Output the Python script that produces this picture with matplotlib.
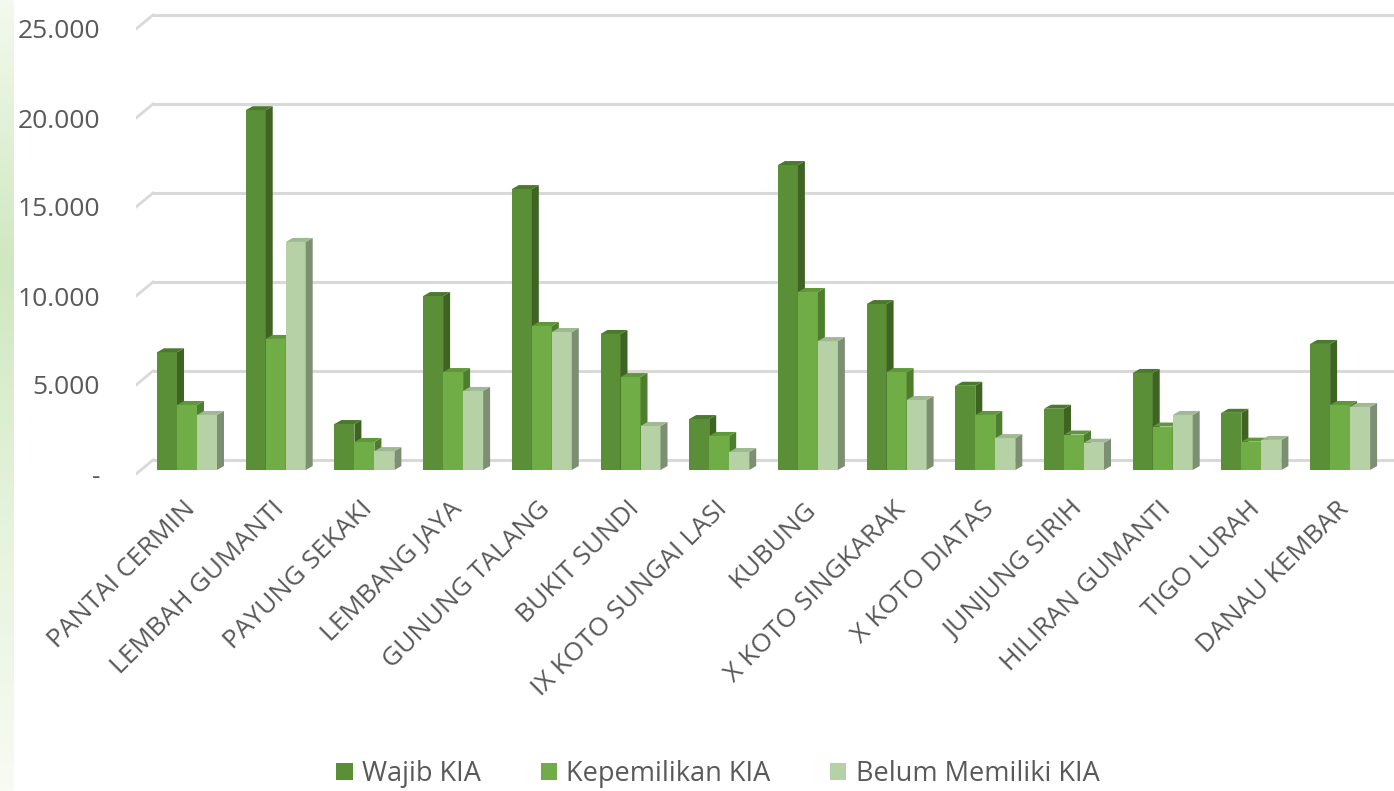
import matplotlib

matplotlib.use("Agg")
import matplotlib.pyplot as plt
import numpy as np
from matplotlib.patches import Polygon, Patch

plt.rcParams["font.family"] = ["Open Sans", "DejaVu Sans"]

# data
kecamatan = [
    "PANTAI CERMIN", "LEMBAH GUMANTI", "PAYUNG SEKAKI", "LEMBANG JAYA",
    "GUNUNG TALANG", "BUKIT SUNDI", "IX KOTO SUNGAI LASI", "KUBUNG",
    "X KOTO SINGKARAK", "X KOTO DIATAS", "JUNJUNG SIRIH", "HILIRAN GUMANTI",
    "TIGO LURAH", "DANAU KEMBAR",
]
wajib_kia = [6500, 20100, 2470, 9660, 15670, 7530, 2750, 17020, 9210, 4620, 3330, 5340, 3100, 6970]
kepemilikan_kia = [3540, 7250, 1460, 5390, 7980, 5110, 1800, 9890, 5390, 2980, 1880, 2330, 1480, 3540]
belum_kia = [2980, 12700, 950, 4330, 7640, 2360, 900, 7130, 3820, 1680, 1420, 2980, 1580, 3430]

series_names = ["Wajib KIA", "Kepemilikan KIA", "Belum Memiliki KIA"]
yticks = [0, 5000, 10000, 15000, 20000, 25000]
ytick_labels = ["-", "5.000", "10.000", "15.000", "20.000", "25.000"]

front_colors = ["#5b8f37", "#70ad47", "#b5d1a5"]
side_colors = ["#3e6323", "#4d7d2d", "#7d8f73"]
top_colors = ["#4a7a2b", "#5f973a", "#a0b893"]

# pixel geometry helpers (figure drawn at 100 dpi)
W, H = 1394, 791
PX = 5000 / 89.0        # value units per pixel
GX = 88.7               # pixels between groups
XP = 1.0 / GX           # x units per pixel
x0_px = 187
ax_left, ax_right, ax_top, ax_bot = 136, 1394, 10, 480
zero_px = 468

fig = plt.figure(figsize=(W / 100, H / 100), dpi=100)
fig.patch.set_facecolor("white")

# light green slide decoration at the left edge
deco = fig.add_axes([0, 0, 14 / W, 1])
grad = np.linspace(0, 1, 200).reshape(-1, 1)
deco.imshow(grad, aspect="auto", cmap=matplotlib.colors.LinearSegmentedColormap.from_list(
    "g", ["#f3f9ee", "#cfe8bf", "#e6f3dd", "#f7fbf4"]))
deco.axis("off")

ax = fig.add_axes([ax_left / W, 1 - ax_bot / H, (ax_right - ax_left) / W, (ax_bot - ax_top) / H])
xmin = (ax_left - x0_px) * XP
xmax = (ax_right - x0_px) * XP
ax.set_xlim(xmin, xmax)
ax.set_ylim(-(ax_bot - zero_px) * PX, (zero_px - ax_top) * PX)
for s in ax.spines.values():
    s.set_visible(False)

# back-wall gridlines plus the slanted left-wall part
wall_x = (153 - x0_px) * XP
for v in yticks:
    yb = v + 8 * PX
    ax.plot([wall_x, xmax], [yb, yb], color="#d9d9d9", lw=2.2, zorder=1, solid_capstyle="butt")
    ax.plot([xmin, wall_x], [v - 6 * PX, yb], color="#d9d9d9", lw=2.0, zorder=1)

w = 20 * XP
dx = 7 * XP
dy = 4 * PX
base = -2 * PX
x = np.arange(len(kecamatan))
all_series = [wajib_kia, kepemilikan_kia, belum_kia]

for g in x:
    for i, vals in enumerate(all_series):
        v = vals[g]
        xl = g - 1.5 * w + i * w
        xr = xl + w
        z = 2 + g * 3 + i
        ax.bar(xl, v - base, bottom=base, width=w, align="edge",
               color=front_colors[i], linewidth=0, zorder=z)
        ax.add_patch(Polygon([(xr, base), (xr + dx, base + dy), (xr + dx, v + dy), (xr, v)],
                             closed=True, facecolor=side_colors[i], linewidth=0, zorder=z))
        ax.add_patch(Polygon([(xl, v), (xr, v), (xr + dx, v + dy), (xl + dx, v + dy)],
                             closed=True, facecolor=top_colors[i], linewidth=0, zorder=z))

ax.set_yticks([v - 6 * PX for v in yticks])
ax.set_yticklabels(ytick_labels, fontsize=19, color="#595959")
ax.tick_params(axis="y", length=0, pad=26)

ax.set_xticks(x - 4 * XP)
ax.set_xticklabels(kecamatan, rotation=45, ha="right", va="top", rotation_mode="anchor",
                   fontsize=19, color="#595959")
ax.tick_params(axis="x", length=0, pad=12)

handles = [Patch(facecolor=c, edgecolor="none") for c in front_colors]
fig.legend(handles, series_names, loc="center", bbox_to_anchor=(718 / W, 1 - 774 / H),
           ncol=3, frameon=False, fontsize=19.5, labelcolor="#595959",
           handlelength=0.6, handleheight=0.6, handletextpad=0.35, columnspacing=2.2)

fig.savefig("out.png", dpi=100)
